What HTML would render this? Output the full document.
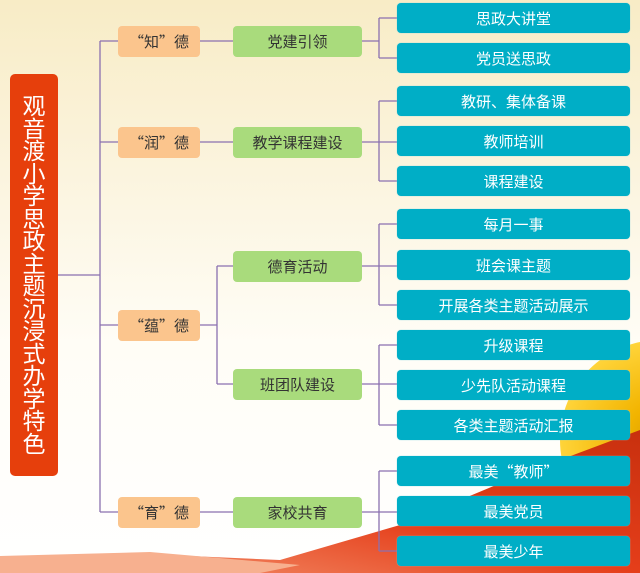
<!DOCTYPE html>
<html><head><meta charset="utf-8"><style>
body{margin:0;width:640px;height:573px;overflow:hidden;position:relative;background:linear-gradient(180deg,#f8ecc6 0%,#fbf4de 30%,#fffdf6 60%,#ffffff 100%);font-family:"Liberation Sans","Noto Sans CJK SC",sans-serif;}
.b{position:absolute;display:flex;align-items:center;justify-content:center;border-radius:4px;font-size:15px;}
.o{background:#fbc58d;color:#333;left:118px;width:82px;height:31px;}
.g{background:#a9db7c;color:#333;left:233px;width:129px;height:31px;}
.t{background:#00aec6;color:#fff;left:397px;width:233px;height:30px;box-shadow:0 0 1px #7fd0dc;}
.q{font-family:"Noto Sans CJK SC",sans-serif;}
svg{position:absolute;left:0;top:0}
</style></head><body>
<svg width="640" height="573">
<defs><radialGradient id="sf" cx="0.5" cy="0.5" r="0.5"><stop offset="0" stop-color="#d9a000"/><stop offset="0.35" stop-color="#f2b400"/><stop offset="1" stop-color="#ffd43a"/></radialGradient>
<linearGradient id="rd" x1="0" y1="1" x2="1" y2="0"><stop offset="0" stop-color="#f6a07a"/><stop offset="0.5" stop-color="#e53e1a"/><stop offset="1" stop-color="#c8300e"/></linearGradient></defs>
<circle cx="660" cy="440" r="100" fill="url(#sf)"/>
<polygon points="0,560 120,553 280,560 400,525 520,475 640,430 640,573 0,573" fill="url(#rd)"/>
<polygon points="0,573 0,556 150,552 300,565 260,573" fill="#f7b08f"/>
<g stroke="#8a70b0" stroke-width="1.3" fill="none">
<path d="M58 275H100M100 41V512M100 41H118M100 142H118M100 325H118M100 512H118"/>
<path d="M200 41H233M200 142H233M200 512H233M200 325H217M217 266V384M217 266H233M217 384H233"/>
<path d="M362 41H379M379 18V58M379 18H397M379 58H397"/>
<path d="M362 142H397M379 101V181M379 101H397M379 181H397"/>
<path d="M362 266H397M379 224V305M379 224H397M379 305H397"/>
<path d="M362 384H397M379 345V425M379 345H397M379 425H397"/>
<path d="M362 512H397M379 471V551M379 471H397M379 551H397"/>
</g></svg>
<div class="b" style="left:10px;top:74px;width:48px;height:402px;background:#e63f0c;color:#fff;font-size:23px;line-height:22.5px;flex-direction:column;border-radius:5px;">观<br>音<br>渡<br>小<br>学<br>思<br>政<br>主<br>题<br>沉<br>浸<br>式<br>办<br>学<br>特<br>色</div>
<div class="b o q" style="top:26px">“知”德</div>
<div class="b o q" style="top:127px">“润”德</div>
<div class="b o q" style="top:310px">“蕴”德</div>
<div class="b o q" style="top:497px">“育”德</div>
<div class="b g" style="top:26px">党建引领</div>
<div class="b g" style="top:127px">教学课程建设</div>
<div class="b g" style="top:251px">德育活动</div>
<div class="b g" style="top:369px">班团队建设</div>
<div class="b g" style="top:497px">家校共育</div>
<div class="b t" style="top:3px">思政大讲堂</div>
<div class="b t" style="top:43px">党员送思政</div>
<div class="b t" style="top:86px">教研、集体备课</div>
<div class="b t" style="top:126px">教师培训</div>
<div class="b t" style="top:166px">课程建设</div>
<div class="b t" style="top:209px">每月一事</div>
<div class="b t" style="top:250px">班会课主题</div>
<div class="b t" style="top:290px">开展各类主题活动展示</div>
<div class="b t" style="top:330px">升级课程</div>
<div class="b t" style="top:370px">少先队活动课程</div>
<div class="b t" style="top:410px">各类主题活动汇报</div>
<div class="b t q" style="top:456px">最美“教师”</div>
<div class="b t" style="top:496px">最美党员</div>
<div class="b t" style="top:536px">最美少年</div>
</body></html>
